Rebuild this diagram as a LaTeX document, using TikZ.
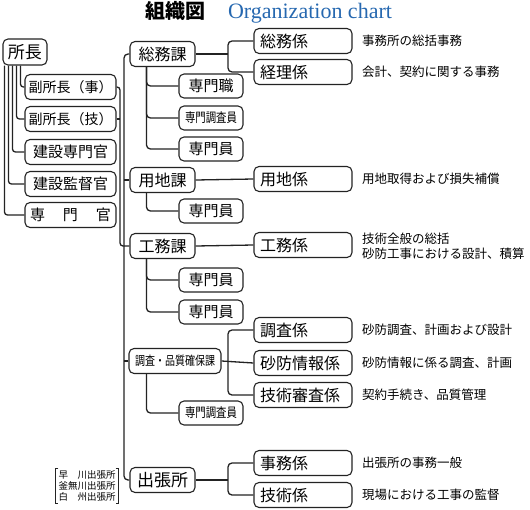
\documentclass[tikz,border=0pt]{standalone}
\usepackage{fontspec}
\setmainfont{Noto Sans CJK JP}
\newfontfamily\titlefont{Liberation Serif}
\usepackage{xcolor}
\definecolor{titleblue}{RGB}{38,104,176}
\definecolor{linegray}{RGB}{35,35,35}
\newcommand{\narrow}[1]{\scalebox{0.8}[1]{#1}}

\begin{document}
\begin{tikzpicture}[x=1pt,y=-1pt,
  box/.style={draw=linegray, line width=1.1pt, rounded corners=5pt, minimum height=25pt, inner sep=0pt, font=\fontsize{15}{15}\selectfont},
  bucho/.style={box, minimum width=91pt},
  ka/.style={box, minimum width=65pt},
  staff/.style={box, minimum width=64pt, minimum height=24pt},
  kakari/.style={box, inner xsep=6pt, text width=86pt, align=left, font=\fontsize{16}{16}\selectfont},
  note/.style={anchor=west, inner sep=0pt, font=\fontsize{12.5}{15}\selectfont},
  link/.style={draw=linegray, line width=1.3pt, rounded corners=4pt}]
\useasboundingbox (0,0) rectangle (530,509);

%titre
\node[anchor=base, font=\fontsize{20}{20}\selectfont\bfseries] (ttl) at (175,18) {組織図};
\node[anchor=base, font=\titlefont\fontsize{22}{22}\selectfont, text=titleblue] (ttlen) at (310,18) {Organization chart};

%colonne de gauche
\node[box, minimum width=44pt, minimum height=26pt, font=\fontsize{17}{17}\selectfont] (sho) at (25,52) {所長};
\node[bucho, font=\fontsize{14}{14}\selectfont] (fk1) at (70.5,87) {副所長（事）};
\node[bucho, font=\fontsize{14}{14}\selectfont] (fk2) at (70.5,119) {副所長（技）};
\node[bucho] (kss) at (70.5,152) {建設専門官};
\node[bucho] (kkt) at (70.5,184) {建設監督官};
\node[bucho] (smk) at (70.5,215) {専\hspace{1.2em}門\hspace{1.2em}官};

%課
\node[ka, font=\fontsize{16}{16}\selectfont] (soumuka) at (162.5,54) {総務課};
\node[ka, font=\fontsize{16}{16}\selectfont] (youchika) at (162.5,180) {用地課};
\node[ka, font=\fontsize{16}{16}\selectfont] (koumuka) at (162.5,246) {工務課};
\node[box, minimum width=92pt, font=\fontsize{12.5}{12.5}\selectfont] (chousaka) at (175,361) {\narrow{調査・品質確保課}};
\node[ka, font=\fontsize{17}{17}\selectfont] (shutchou) at (162.5,480) {出張所};

%専門職など
\node[staff] (sm1) at (211,86) {専門職};
\node[staff, font=\fontsize{13}{13}\selectfont] (sc1) at (211,118) {\narrow{専門調査員}};
\node[staff] (si1) at (211,149) {専門員};
\node[staff] (si2) at (211,211) {専門員};
\node[staff] (si3) at (211,280) {専門員};
\node[staff] (si4) at (211,312) {専門員};
\node[staff, font=\fontsize{13}{13}\selectfont] (sc2) at (211,413) {\narrow{専門調査員}};

%係
\node[kakari] (soumu) at (303,41) {総務係};
\node[kakari] (keiri) at (303,72) {経理係};
\node[kakari] (youchi) at (303,179) {用地係};
\node[kakari] (koumu) at (303,245) {工務係};
\node[kakari] (chousa) at (303,330) {調査係};
\node[kakari] (sabo) at (303,363) {砂防情報係};
\node[kakari] (shinsa) at (303,395) {技術審査係};
\node[kakari] (jimu) at (303,463) {事務係};
\node[kakari] (gijutsu) at (303,495) {技術係};

%事務の内容
\node[note] (d1) at (362,41) {事務所の総括事務};
\node[note] (d2) at (362,72) {会計、契約に関する事務};
\node[note] (d3) at (362,179) {用地取得および損失補償};
\node[note, align=left] (d4) at (362,246) {技術全般の総括\\砂防工事における設計、積算};
\node[note] (d5) at (362,330) {砂防調査、計画および設計};
\node[note] (d6) at (362,363) {砂防情報に係る調査、計画};
\node[note] (d7) at (362,395) {契約手続き、品質管理};
\node[note] (d8) at (362,463) {出張所の事務一般};
\node[note] (d9) at (362,495) {現場における工事の監督};

%出張所の一覧
\node[align=left, inner xsep=3pt, inner ysep=2pt, font=\fontsize{9.5}{11}\selectfont] (branches) at (87,486) {早\hspace{1em}川出張所\\釜無川出張所\\白\hspace{1em}州出張所};
\draw[linegray, line width=0.9pt] ([xshift=3pt]branches.north west) -- (branches.north west) -- (branches.south west) -- ++(3,0);
\draw[linegray, line width=0.9pt] ([xshift=-3pt]branches.north east) -- (branches.north east) -- (branches.south east) -- ++(-3,0);

%liaisons
\coordinate (tb) at (124,300);
\coordinate (fa) at (120,246);
\coordinate (br) at (228,0);

\draw[link, rounded corners=3pt] ([xshift=2pt]sho.south west) |- (smk.west);
\draw[link, rounded corners=3pt] ([xshift=6pt]sho.south west) |- (kkt.west);
\draw[link, rounded corners=3pt] ([xshift=10pt]sho.south west) |- (kss.west);
\draw[link, rounded corners=3pt] ([xshift=14pt]sho.south west) |- (fk2.west);
\draw[link, rounded corners=3pt] ([xshift=18pt]sho.south west) |- (fk1.west);

\draw[link, rounded corners=3pt] (fk1.east) -| (fa) -- (koumuka.west);
\draw[link] (fk2.east) -- (fk2.east -| fa);

\draw[link] (soumuka.west) -| (tb) |- (shutchou.west);
\draw[link] (youchika.west) -- (youchika.west -| tb);
\draw[link] (chousaka.west) -- (chousaka.west -| tb);

\draw[link] ([xshift=17pt]soumuka.south west) |- (sm1.west);
\draw[link] ([xshift=17pt]soumuka.south west) |- (sc1.west);
\draw[link] ([xshift=17pt]soumuka.south west) |- (si1.west);
\draw[link] ([xshift=17pt]youchika.south west) |- (si2.west);
\draw[link] ([xshift=17pt]koumuka.south west) |- (si3.west);
\draw[link] ([xshift=17pt]koumuka.south west) |- (si4.west);
\draw[link] ([xshift=18pt]chousaka.south west) |- (sc2.west);

\draw[link] (soumuka.east) -- (soumuka.east -| br);
\draw[link] (soumu.west) -| (soumuka.east -| br) |- (keiri.west);
\draw[link] (youchika.east) -- (youchi.west);
\draw[link] (koumuka.east) -- (koumu.west);
\draw[link] (chousaka.east) -- (sabo.west);
\draw[link] (chousa.west) -| (sabo.west -| br) |- (shinsa.west);
\draw[link] (shutchou.east) -- (shutchou.east -| br);
\draw[link] (jimu.west) -| (shutchou.east -| br) |- (gijutsu.west);

\end{tikzpicture}
\end{document}
